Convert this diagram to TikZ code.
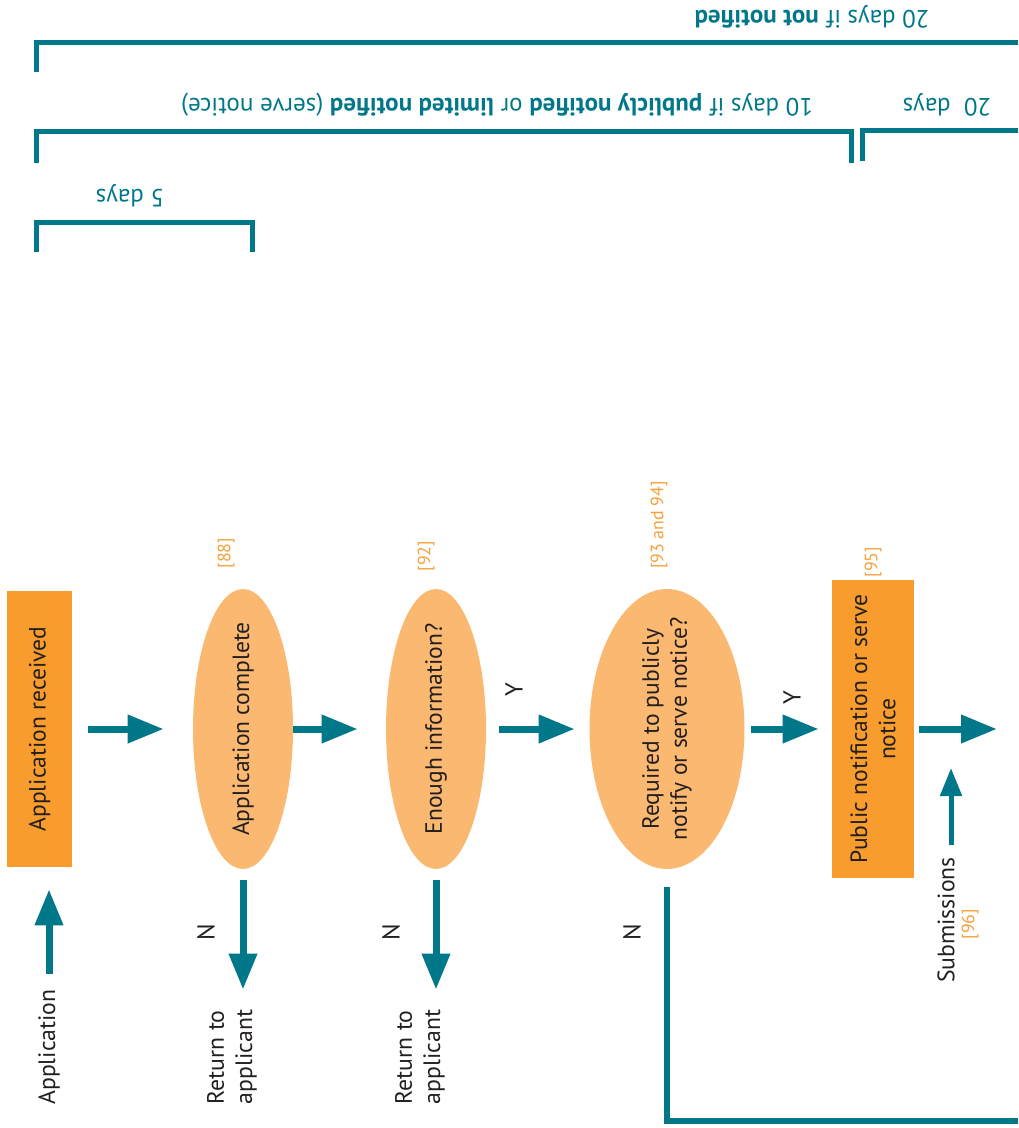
\documentclass[tikz,border=0pt]{standalone}
\usepackage{fontspec}
\setmainfont{PT Sans}
\usetikzlibrary{shapes.geometric,arrows.meta}
\definecolor{flowteal}{HTML}{00788A}
\definecolor{boxorange}{HTML}{F89C2E}
\definecolor{ovalorange}{HTML}{FBB870}
\definecolor{refgold}{HTML}{F7A03A}
\definecolor{inkblack}{HTML}{231F20}
\begin{document}
\begin{tikzpicture}[x=0.02cm,y=-0.02cm,
	step_box/.style={rectangle,fill=boxorange,rotate=90,align=center,inner sep=0pt,text=inkblack,font=\fontsize{13.4}{16}\selectfont},
	decision_node/.style={ellipse,fill=ovalorange,rotate=90,minimum width=5.6cm,align=center,inner xsep=-0.3cm,inner ysep=0pt,text=inkblack,font=\fontsize{13.4}{16}\selectfont},
	ref_label/.style={rotate=90,text=refgold,inner sep=0pt,font=\fontsize{10.2}{12}\selectfont},
	answer_label/.style={rotate=90,text=inkblack,inner sep=0pt,font=\fontsize{14}{16}\selectfont},
	outer_label/.style={rotate=90,align=left,text=inkblack,inner sep=0pt,font=\fontsize{13.5}{16}\selectfont},
	span_label/.style={rotate=180,text=flowteal,inner sep=0pt,font=\fontsize{14.2}{16}\selectfont},
	flow_arrow/.style={draw=flowteal,line width=0.14cm,-{Triangle[length=0.72cm,width=0.54cm]}},
	sub_arrow/.style={draw=flowteal,line width=0.1cm,-{Triangle[length=0.56cm,width=0.42cm]}},
	n_line/.style={draw=flowteal,line width=0.12cm},
	bracket_line/.style={draw=flowteal,line width=0.1cm}]

	\useasboundingbox (0,0) rectangle (1018,1128);

	% time spans
	\draw[bracket_line] (36,72) |- (1018,43);
	\draw[bracket_line] (36,163) |- (851,132) -- (851,163);
	\draw[bracket_line] (862,161) |- (1018,131);
	\draw[bracket_line] (36,252) |- (252,223) -- (252,252);

	\node[span_label] (span20not) at (812,17) {20 days if \textbf{not notified}};
	\node[span_label] (span10) at (497,105) {10 days if \textbf{publicly notified} or \textbf{limited notified} (serve notice)};
	\node[span_label] (span20) at (947,105) {20\ \ days};
	\node[span_label] (span5) at (130,196) {5 days};

	% main steps
	\node[step_box,minimum width=5.54cm,minimum height=1.3cm] (recv) at (39.5,729) {Application received};
	\node[decision_node,minimum height=2cm] (comp) at (243,729) {Application complete};
	\node[decision_node,minimum height=2cm] (enough) at (436,729) {Enough information?};
	\node[decision_node,minimum height=3.1cm] (required) at (667,729) {Required to publicly\\notify or serve notice?};
	\node[step_box,minimum width=5.96cm,minimum height=1.64cm] (public) at (873,729) {Public notification or serve\\notice};
	\coordinate (next) at (997,729);

	\node[ref_label] (ref88) at (226,553) {[88]};
	\node[ref_label] (ref92) at (426,556) {[92]};
	\node[ref_label] (ref93) at (659,525) {[93 and 94]};
	\node[ref_label] (ref95) at (873,562) {[95]};

	\node[answer_label] (yes1) at (514,690) {Y};
	\node[answer_label] (yes2) at (792,698) {Y};
	\node[answer_label] (no1) at (206,932) {N};
	\node[answer_label] (no2) at (391,932) {N};
	\node[answer_label] (no3) at (632,932) {N};

	\node[outer_label] (app) at (49,1047) {Application};
	\node[outer_label] (ret1) at (232,1057) {Return to\\applicant};
	\node[outer_label] (ret2) at (420,1057) {Return to\\applicant};
	\node[outer_label] (sub) at (946,920) {Submissions};
	\node[ref_label] (ref96) at (970,924) {[96]};
	\coordinate (subtip) at (951,768);
	\coordinate (exitn) at (1018,1121);

	\draw[flow_arrow,shorten <=0.32cm,shorten >=0.58cm] (recv) -- (comp);
	\draw[flow_arrow,shorten >=0.56cm] (comp) -- (enough);
	\draw[flow_arrow,shorten <=0.26cm,shorten >=0.29cm] (enough) -- (required);
	\draw[flow_arrow,shorten <=0.13cm,shorten >=0.26cm] (required) -- (public);
	\draw[flow_arrow,shorten <=0.1cm] (public) -- (next);

	\draw[flow_arrow,shorten <=0.3cm,shorten >=0.43cm] (app.east) -- (app.east |- recv.west);
	\draw[flow_arrow,shorten <=0.22cm,shorten >=0.4cm] (comp.west) -- (comp.west |- ret1.east);
	\draw[flow_arrow,shorten <=0.22cm,shorten >=0.4cm] (enough.west) -- (enough.west |- ret2.east);
	\draw[n_line,shorten <=0.36cm] (required.west) |- (exitn);
	\draw[sub_arrow,shorten <=0.24cm] (subtip |- sub.east) -- (subtip);
\end{tikzpicture}
\end{document}
